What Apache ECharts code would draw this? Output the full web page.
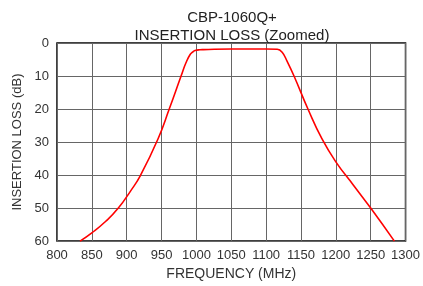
<!DOCTYPE html>
<html><head><meta charset="utf-8">
<script src="https://cdn.jsdelivr.net/npm/echarts@6/dist/echarts.min.js"></script>
<style>html,body{margin:0;padding:0;background:#fff}#c{width:423px;height:286px}</style>
</head><body><div id="c"></div>
<script>
const freqMHz = [833, 850, 870, 888, 905, 920, 945, 961, 978, 985, 991, 995, 998, 1005, 1010, 1050, 1100, 1116, 1123, 1130, 1140, 1160, 1180, 1200, 1225, 1250, 1284];
const lossDb  = [60, 57.5, 54, 50, 45, 40, 29, 20, 10, 6, 3.5, 2.7, 2.3, 2.05, 2.0, 1.8, 1.8, 1.9, 2.8, 5.5, 10, 20, 29, 36, 43, 50, 60];
const xTicks = [800, 850, 900, 950, 1000, 1050, 1100, 1150, 1200, 1250, 1300];
const yTicks = [0, 10, 20, 30, 40, 50, 60];
const titleLines = ['CBP-1060Q+', 'INSERTION LOSS (Zoomed)'];

const font = 'Liberation Sans, Arial, sans-serif';
const chart = echarts.init(document.getElementById('c'), null, {renderer: 'canvas'});
chart.setOption({
  animation: false,
  title: {
    text: titleLines.join('\n'),
    left: 227, top: 4, textAlign: 'center',
    textStyle: {fontFamily: font, fontSize: 15, fontWeight: 'normal', color: '#222', lineHeight: 18}
  },
  grid: {left: 57, right: 13, top: 43, bottom: 43, show: true, borderColor: '#000', borderWidth: 1.5},
  xAxis: {
    type: 'value', min: xTicks[0], max: xTicks[xTicks.length - 1], interval: 50,
    name: 'FREQUENCY (MHz)', nameLocation: 'middle', nameGap: 25,
    nameTextStyle: {fontFamily: font, fontSize: 14, color: '#333'},
    axisLine: {show: false}, axisTick: {show: false},
    axisLabel: {fontFamily: font, fontSize: 13, color: '#333', margin: 8, formatter: v => String(v)},
    splitLine: {show: true, lineStyle: {color: '#666', width: 1}}
  },
  yAxis: {
    type: 'value', inverse: true, min: yTicks[0], max: yTicks[yTicks.length - 1], interval: 10,
    name: 'INSERTION LOSS (dB)', nameLocation: 'middle', nameGap: 33, nameRotate: 90,
    nameTextStyle: {fontFamily: font, fontSize: 13, color: '#333'},
    axisLine: {show: false}, axisTick: {show: false},
    axisLabel: {fontFamily: font, fontSize: 13, color: '#333', margin: 8, formatter: v => String(v)},
    splitLine: {show: true, lineStyle: {color: '#666', width: 1}}
  },
  series: [{
    type: 'line', smooth: 0.5, showSymbol: false,
    data: freqMHz.map((f, i) => [f, lossDb[i]]),
    lineStyle: {color: '#ff0000', width: 1.6}
  }]
});
</script></body></html>
